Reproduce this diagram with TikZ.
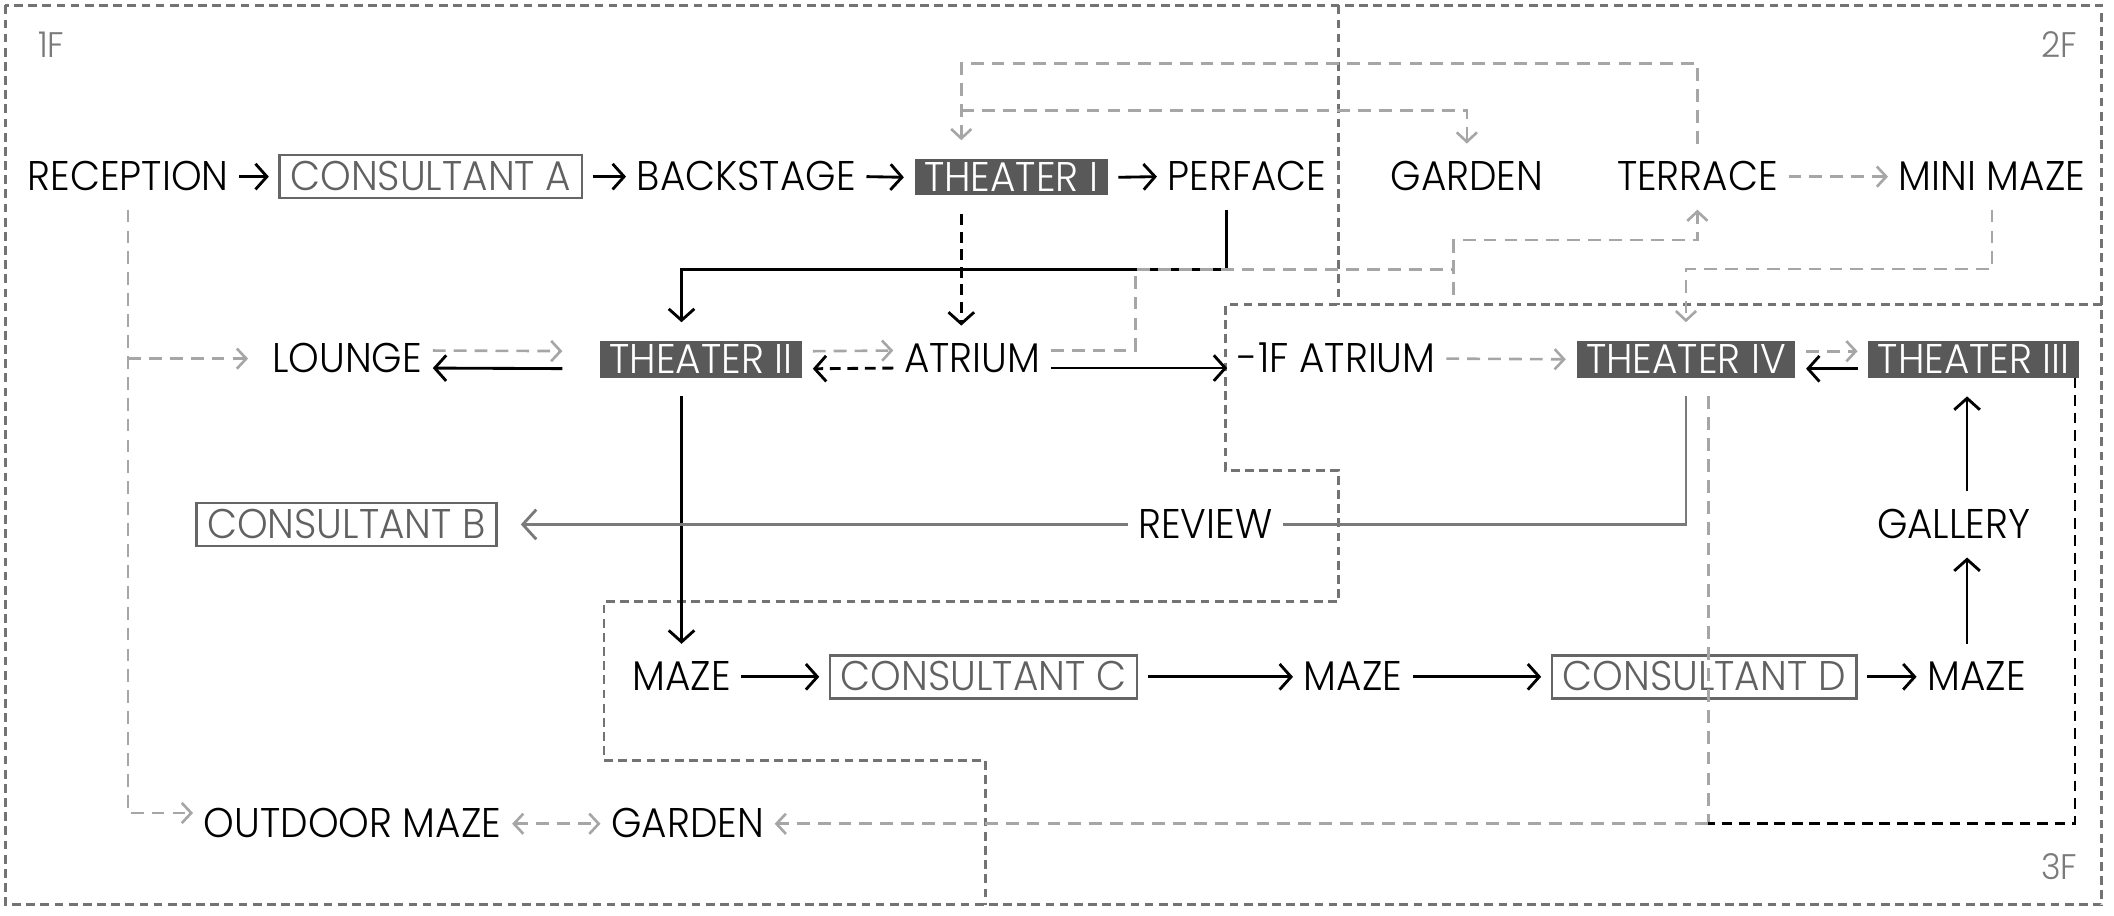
\documentclass[tikz,border=0pt]{standalone}
\usepackage{fontspec}
\setmainfont{Poppins}[UprightFont={* Light}, FakeStretch=0.94]
\usepackage{tikz}
\usetikzlibrary{
  arrows.meta,
  calc
}

\begin{document}
\begin{tikzpicture}[
  x=0.2mm, y=-0.2mm,
  font=\fontsize{17.5}{20}\selectfont,
  lbl/.style={inner sep=0pt, text height=4.2mm, text depth=0mm, outer xsep=1.6mm, outer ysep=2.8mm, text=black},
  consbox/.style={lbl, draw=black!60, line width=1.1pt, text=black!62, inner xsep=1.6mm, minimum height=6.4mm},
  thbox/.style={lbl, fill=black!65, text=white, inner xsep=1.4mm, minimum height=5.4mm},
  blk/.style={draw=black, line width=1.2pt, >={Straight Barb[length=1.7mm, width=3.8mm]}, ->},
  bdash/.style={blk, dash pattern=on 1.6mm off 1mm},
  gdash/.style={draw=black!35, line width=1.1pt, dash pattern=on 1.9mm off 1.2mm, >={Straight Barb[length=1.4mm, width=3mm]}, ->},
  gline/.style={draw=black!52, line width=1.2pt, >={Straight Barb[length=2mm, width=4.4mm]}},
  floor/.style={draw=black!55, line width=1.2pt, dash pattern=on 1.3mm off 0.8mm},
  flbl/.style={text=black!52, font=\fontsize{15}{18}\selectfont}
]
\useasboundingbox (0,0) rectangle (1568,679);

% floors
\draw[floor] (4,4) rectangle (1559,671);
\draw[floor] (993,4) -- (993,226);
\draw[floor] (1559,226) -- (909,226) -- (909,349) -- (993,349) -- (993,446) -- (448,446) -- (448,564) -- (731,564) -- (731,671);
\node[flbl, anchor=west] (f1) at (22,33) {1F};
\node[flbl, anchor=east] (f2) at (1547,33) {2F};
\node[flbl, anchor=east] (f3) at (1547,643) {3F};

% row 1
\node[lbl] (rec) at (95,131) {RECEPTION};
\node[consbox] (consA) at (319.5,131) {CONSULTANT A};
\node[lbl] (back) at (553.5,131) {BACKSTAGE};
\node[thbox] (thI) at (750,131.5) {THEATER I};
\node[lbl] (perf) at (925,131) {PERFACE};
\node[lbl] (gardT) at (1088,131) {GARDEN};
\node[lbl] (terr) at (1259,131) {TERRACE};
\node[lbl] (mini) at (1477.5,131) {MINI MAZE};

% row 2
\node[lbl] (lounge) at (257.5,266) {LOUNGE};
\node[thbox] (thII) at (520,266.5) {THEATER II};
\node[lbl] (atr) at (721,266) {ATRIUM};
\node[lbl] (atrB) at (991.5,266) {-1F ATRIUM};
\node[thbox] (thIV) at (1250.5,266.5) {THEATER IV};
\node[thbox] (thIII) at (1464,266.5) {THEATER III};

% row 3
\node[consbox] (consB) at (257,389) {CONSULTANT B};
\node[lbl] (review) at (894,389) {REVIEW};
\node[lbl] (gallery) at (1449,389) {GALLERY};

% row 4
\node[lbl] (mazeA) at (505.5,502) {MAZE};
\node[consbox] (consC) at (729.5,502) {CONSULTANT C};
\node[lbl] (mazeB) at (1003.5,502) {MAZE};
\node[consbox] (consD) at (1264,502) {CONSULTANT D};
\node[lbl] (mazeC) at (1466,502) {MAZE};

% row 5
\node[lbl] (outdoor) at (261.5,611) {OUTDOOR MAZE};
\node[lbl] (gardB) at (510,611) {GARDEN};

% bends
\coordinate (topL) at (713,47);
\coordinate (colI) at (713,82);
\coordinate (jA) at (842,200);
\coordinate (jB) at (1078,178);
\coordinate (jC) at (910,200);
\coordinate (jD) at (1267,611);
\coordinate (colG) at (1459,389);

% --- main route ---
\draw[blk] (rec.east) -- (consA.west);
\draw[blk] (consA.east) -- (back.west);
\draw[blk] (back.east) -- (thI.west);
\draw[blk] (thI.east) -- (perf.west);
\draw[blk] (perf.south -| jC) -- (jC) -| (mazeA |- thII.north);
\draw[bdash] (colI |- thI.south) -- (colI |- atr.north);
\draw[blk] (mazeA |- thII.south) -- (mazeA.north);
\draw[blk, shorten <=4mm] ($(thII.west)+(0,7)$) -- ($(lounge.east)+(0,7)$);
\draw[bdash] ($(atr.west)+(0,7)$) -- ($(thII.east)+(0,7)$);
\draw[blk] ($(atr.east)+(0,7)$) -- ($(atrB.west)+(0,7)$);
\draw[blk] ($(thIII.west)+(0,7)$) -- ($(thIV.east)+(0,7)$);
\draw[blk] (mazeA.east) -- (consC.west);
\draw[blk] (consC.east) -- (mazeB.west);
\draw[blk] (mazeB.east) -- (consD.west);
\draw[blk] (consD.east) -- (mazeC.west);
\draw[blk] (colG |- mazeC.north) -- (colG |- gallery.south);
\draw[blk] (colG |- gallery.north) -- (colG |- thIII.south);

% --- review ---
\draw[gline] (thIV.south) |- (review.east);
\draw[gline, ->, shorten >=2mm] (review.west) -- (consB.east);

% --- side routes ---
\draw[gdash] (rec.south) |- ($(outdoor.west)+(0,-8)$);
\draw[gdash, shorten >=2mm] (rec.south |- lounge.west) -- (lounge.west);
\draw[gdash, <->] (outdoor.east) -- (gardB.west);
\draw[gdash, shorten >=4mm] ($(lounge.east)+(0,-6)$) -- ($(thII.west)+(0,-6)$);
\draw[gdash] ($(thII.east)+(0,-6)$) -- ($(atr.west)+(0,-6)$);
\draw[gdash] ($(atr.east)+(0,-6)$) -| (jA) -| (jB) -| (terr.south);
\draw[gdash, -] (jB) -- ++(0,43);
\draw[gdash] (atrB.east) -- (thIV.west);
\draw[gdash] ($(thIV.east)+(0,-6)$) -- ($(thIII.west)+(0,-6)$);
\draw[gdash] (terr.north) |- (topL) -- (topL |- thI.north);
\draw[gdash] (colI) -| (gardT.north);
\draw[gdash] (terr.east) -- (mini.west);
\draw[gdash] (mini.south) -- ++(0,44) -| (thIV.north);
\draw[gdash, -] (thIV.south -| jD) -- (jD);
\draw[gdash] (jD) -- (gardB.east);
\draw[bdash, -] ($(thIII.south)+(75,-14)$) |- (jD);

\end{tikzpicture}
\end{document}
